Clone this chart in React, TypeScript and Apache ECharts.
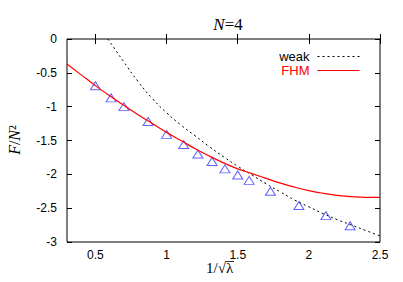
import React, { useEffect, useRef } from "react";
import * as echarts from "echarts";

// FHM curve
const fhmX = [0.3, 0.4, 0.5, 0.6, 0.7, 0.8, 0.9, 1.0, 1.1, 1.2, 1.3, 1.4, 1.5, 1.6, 1.7, 1.8, 1.9, 2.0, 2.1, 2.2, 2.3, 2.4, 2.5];
const fhmY = [-0.37, -0.53, -0.69, -0.84, -0.98, -1.12, -1.25, -1.38, -1.5, -1.62, -1.73, -1.83, -1.92, -1.99, -2.06, -2.13, -2.19, -2.24, -2.28, -2.31, -2.33, -2.34, -2.34];

// weak-coupling curve
const weakX = [0.587, 0.65, 0.7, 0.8, 0.9, 1.0, 1.1, 1.2, 1.3, 1.4, 1.5, 1.6, 1.7, 1.8, 1.9, 2.0, 2.1, 2.2, 2.3, 2.4, 2.5];
const weakY = [0, -0.19, -0.34, -0.63, -0.88, -1.09, -1.27, -1.43, -1.59, -1.74, -1.88, -2.01, -2.14, -2.26, -2.38, -2.48, -2.58, -2.67, -2.75, -2.83, -2.91];

// simulation points (triangles)
const dataX = [0.5, 0.61, 0.7, 0.87, 1.0, 1.12, 1.22, 1.32, 1.41, 1.5, 1.58, 1.73, 1.93, 2.12, 2.29];
const dataY = [-0.69, -0.87, -1.0, -1.22, -1.41, -1.56, -1.7, -1.81, -1.92, -2.01, -2.09, -2.25, -2.46, -2.61, -2.76];

const xTicks = [0.5, 1, 1.5, 2, 2.5];
const yTicks = [0, -0.5, -1, -1.5, -2, -2.5, -3];

const zip = (a: number[], b: number[]) => a.map((v, i) => [v, b[i]]);

export default function App() {
  const ref = useRef<HTMLDivElement>(null);
  useEffect(() => {
    if (!ref.current) return;
    const chart = echarts.init(ref.current, null, { renderer: "svg" });
    const sans = "Liberation Sans, Arial, sans-serif";
    const serif = "Liberation Serif, Times New Roman, serif";
    const xCommon = {
      type: "value" as const,
      min: 0.3,
      max: 2.5,
      splitLine: { show: false },
      axisLine: { show: false },
    };
    const yCommon = {
      type: "value" as const,
      min: -3,
      max: 0,
      interval: 0.5,
      splitLine: { show: false },
      axisLine: { show: false },
    };
    chart.setOption({
      animation: false,
      backgroundColor: "#fff",
      title: {
        text: "{i|N}=4",
        left: 223,
        textAlign: "center",
        top: 11,
        textStyle: {
          fontFamily: serif,
          fontSize: 17,
          fontWeight: "normal",
          color: "#000",
          rich: { i: { fontFamily: serif, fontSize: 17, fontStyle: "italic", color: "#000" } },
        },
      },
      grid: {
        left: 67,
        right: 23,
        top: 39,
        bottom: 40,
        show: true,
        borderColor: "#000",
        borderWidth: 1,
        backgroundColor: "transparent",
      },
      legend: {
        data: [
          { name: "weak", textStyle: { color: "#000" } },
          { name: "FHM", textStyle: { color: "#ff0000" } },
        ],
        orient: "vertical",
        align: "right",
        right: 38,
        top: 45,
        itemWidth: 42,
        itemHeight: 12,
        itemGap: 1,
        selectedMode: false,
        lineStyle: { width: 1 },
        itemStyle: { color: "rgba(0,0,0,0)", borderColor: "rgba(0,0,0,0)", borderWidth: 0, opacity: 0 },
        textStyle: { fontFamily: sans, fontSize: 13, padding: [0, 3, 0, 0] },
      },
      xAxis: [
        {
          ...xCommon,
          position: "bottom",
          axisTick: { inside: true, length: 5, customValues: xTicks, lineStyle: { color: "#000" } },
          axisLabel: {
            customValues: xTicks,
            margin: 7,
            color: "#000",
            fontFamily: sans,
            fontSize: 12,
            formatter: (v: number) => String(v),
          },
        },
        {
          ...xCommon,
          position: "top",
          axisTick: { inside: true, length: 5, customValues: xTicks, lineStyle: { color: "#000" } },
          axisLabel: { show: false },
        },
      ],
      yAxis: [
        {
          ...yCommon,
          position: "left",
          axisTick: { inside: true, length: 5, customValues: yTicks, lineStyle: { color: "#000" } },
          axisLabel: {
            customValues: yTicks,
            margin: 10,
            color: "#000",
            fontFamily: sans,
            fontSize: 12,
            formatter: (v: number) => String(v),
          },
        },
        {
          ...yCommon,
          position: "right",
          axisTick: { inside: true, length: 5, customValues: yTicks, lineStyle: { color: "#000" } },
          axisLabel: { show: false },
        },
      ],
      graphic: [
        {
          type: "text",
          x: 14,
          y: 140,
          rotation: Math.PI / 2,
          style: {
            text: "{i|F}/{i|N}²",
            fontFamily: serif,
            fontSize: 16,
            fill: "#000",
            align: "center",
            verticalAlign: "middle",
            rich: { i: { fontFamily: serif, fontSize: 16, fontStyle: "italic", fill: "#000" } },
          },
        },
        {
          type: "text",
          x: 206,
          y: 268,
          style: {
            text: "1/√λ",
            fontFamily: serif,
            fontSize: 15,
            fill: "#000",
            align: "left",
            verticalAlign: "middle",
          },
        },
        {
          type: "line",
          shape: { x1: 225.5, y1: 261.5, x2: 234, y2: 261.5 },
          style: { stroke: "#000", lineWidth: 0.8 },
        },
      ],
      series: [
        {
          name: "weak",
          type: "line",
          data: zip(weakX, weakY),
          smooth: true,
          symbol: "none",
          lineStyle: { color: "#000", width: 1, type: [2, 3] },
          itemStyle: { color: "#000" },
          clip: true,
        },
        {
          name: "FHM",
          type: "line",
          data: zip(fhmX, fhmY),
          smooth: true,
          symbol: "none",
          lineStyle: { color: "#ff0000", width: 1.2 },
          itemStyle: { color: "#ff0000" },
          clip: true,
        },
        {
          name: "data",
          type: "scatter",
          data: zip(dataX, dataY),
          symbol: "triangle",
          symbolSize: [10, 8],
          itemStyle: { color: "rgba(0,0,0,0)", borderColor: "#3a3aff", borderWidth: 1 },
        },
      ],
    });
    return () => chart.dispose();
  }, []);
  return <div ref={ref} style={{ width: 403, height: 282, position: "absolute", left: 0, top: 0 }} />;
}
